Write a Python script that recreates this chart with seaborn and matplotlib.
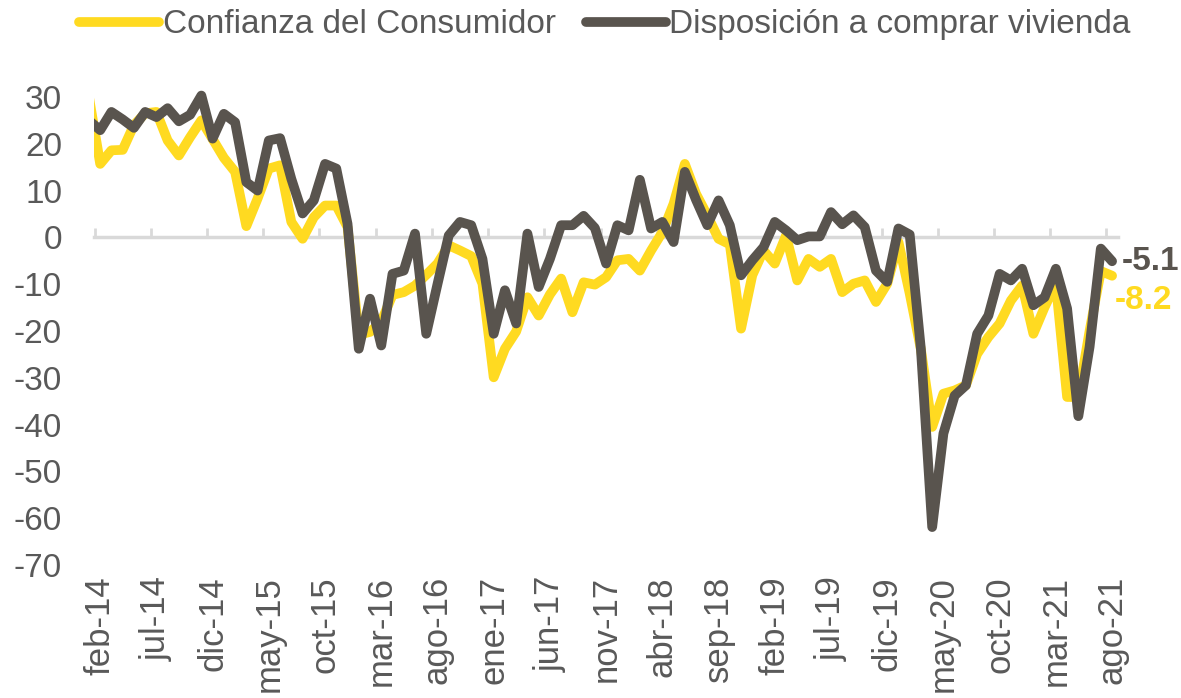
import numpy as np
import pandas as pd
import matplotlib
matplotlib.use("Agg")
import matplotlib.pyplot as plt
import seaborn as sns

meses_abr = ['ene', 'feb', 'mar', 'abr', 'may', 'jun', 'jul', 'ago', 'sep', 'oct', 'nov', 'dic']
# ene-14 ... ago-21 (ene-14 queda recortado en el borde del eje, como en el original)
fechas = [f"{meses_abr[k % 12]}-{14 + k // 12}" for k in range(92)]

confianza = [30.0,
             15.7, 18.6, 18.7, 24.0, 26.5, 26.8, 20.7, 17.5, 21.4, 25.0, 21.0,
             17.0, 14.0, 2.4, 8.3, 14.7, 15.4, 3.3, -0.3, 4.3, 6.8, 6.8,
             2.2, -20.8, -20.2, -18.0, -12.3, -11.7, -10.3, -8.0, -5.6, -1.7, -2.8,
             -4.0, -9.9, -29.9, -23.8, -20.1, -12.8, -16.7, -12.2, -8.8, -16.0, -9.6,
             -10.1, -8.5, -4.9, -4.6, -7.1, -2.8, 1.1, 7.2, 15.7, 9.3, 4.7,
             -0.3, -1.5, -19.5, -8.1, -2.8, -5.6, 0.4, -9.2, -4.6, -6.3, -4.6,
             -11.7, -9.9, -9.2, -13.8, -9.9, -1.0, -12.0, -24.0, -40.5, -33.4, -32.7,
             -31.6, -24.9, -21.3, -18.4, -13.5, -10.3, -20.6, -14.9, -9.9, -34.1, -34.1,
             -20.0, -7.2, -8.2]

vivienda = [25.0,
            22.9, 26.8, 25.2, 23.4, 26.8, 25.7, 27.6, 24.8, 26.2, 30.3, 21.1,
            26.4, 24.6, 11.8, 10.0, 20.7, 21.2, 12.5, 5.1, 7.9, 15.7, 14.7,
            2.9, -23.8, -13.1, -23.1, -7.8, -7.1, 0.8, -20.6, -10.0, 0.4, 3.3,
            2.6, -4.6, -20.6, -11.3, -18.4, 0.8, -10.6, -4.6, 2.6, 2.6, 4.6,
            2.0, -5.6, 2.6, 1.5, 12.3, 1.9, 3.3, -1.0, 14.0, 8.0, 2.6,
            7.9, 2.6, -8.1, -4.9, -2.1, 3.3, 1.5, -0.6, 0.2, 0.2, 5.4,
            2.8, 4.7, 2.2, -7.1, -9.5, 1.9, 0.6, -24.0, -61.9, -41.9, -33.8,
            -31.6, -20.6, -16.7, -7.8, -9.2, -6.7, -14.5, -12.8, -6.7, -15.2, -38.2,
            -23.4, -2.4, -5.1]

series = ['Confianza del Consumidor', 'Disposición a comprar vivienda']
amarillo = '#FFDA21'
gris = '#59544E'
texto = '#595959'

df = pd.DataFrame({'pos': np.arange(-1, 91), 'mes': fechas,
                   series[0]: confianza, series[1]: vivienda})
df = df.melt(id_vars=['pos', 'mes'], var_name='serie', value_name='valor')

sns.set_theme(style='white')
plt.rcParams['font.family'] = ['Liberation Sans', 'DejaVu Sans']
plt.rcParams['axes.unicode_minus'] = False

fig = plt.figure(figsize=(11.81, 6.98), dpi=100)
ymin, ymax = -70, 32
ax = fig.add_axes([94 / 1181, 133 / 698, 1023.7 / 1181, 477.4 / 698])

sns.lineplot(data=df, x='pos', y='valor', hue='serie', hue_order=series,
             palette=[amarillo, gris], linewidth=7, ax=ax, legend=False,
             solid_joinstyle='round', solid_capstyle='round', zorder=5)

ax.set_xlim(-0.55, 90.5)
ax.set_ylim(ymin, ymax)
for s in ax.spines.values():
    s.set_visible(False)

pos_etq = list(range(0, 91, 5))
ax.set_xticks(pos_etq)
ax.set_xticklabels([fechas[p + 1] for p in pos_etq], rotation=90, va='top', ha='center')
ax.set_yticks(range(-70, 31, 10))
ax.set_yticklabels([str(v) for v in range(-70, 31, 10)])
ax.tick_params(axis='x', length=0, pad=8, labelsize=25, labelcolor=texto)
ax.tick_params(axis='y', length=0, pad=23, labelsize=24, labelcolor=texto)
ax.set_xlabel('')
ax.set_ylabel('')

# eje de categorias a la altura de cero
sec = ax.secondary_xaxis((0 - ymin) / (ymax - ymin))
sec.set_xticks([p - 0.5 for p in pos_etq])
sec.set_xticklabels([])
sec.tick_params(axis='x', direction='out', length=6.5, width=2, color='#D9D9D9')
for k, s in sec.spines.items():
    s.set_visible(k == 'bottom')
sec.spines['bottom'].set_color('#D9D9D9')
sec.spines['bottom'].set_linewidth(2.5)
sec.set_zorder(1)

ax.annotate(f"{vivienda[-1]:.1f}", xy=(90, vivienda[-1]), xytext=(7, 0),
            textcoords='offset points', ha='left', va='center',
            fontsize=24, fontweight='bold', color=gris)
ax.annotate(f"{confianza[-1]:.1f}", xy=(90, confianza[-1]), xytext=(2, -18),
            textcoords='offset points', ha='left', va='center',
            fontsize=24, fontweight='bold', color=amarillo)

lineas = ax.get_lines()[:2]
leg = fig.legend(lineas, series, loc='upper left', bbox_to_anchor=(76 / 1181, 1 - 6 / 698),
                 ncol=2, frameon=False, fontsize=24, handlelength=2.4,
                 handletextpad=0.1, columnspacing=0.9, borderpad=0.1, borderaxespad=0)
for t in leg.get_texts():
    t.set_color(texto)

fig.savefig('out.png', dpi=100)
